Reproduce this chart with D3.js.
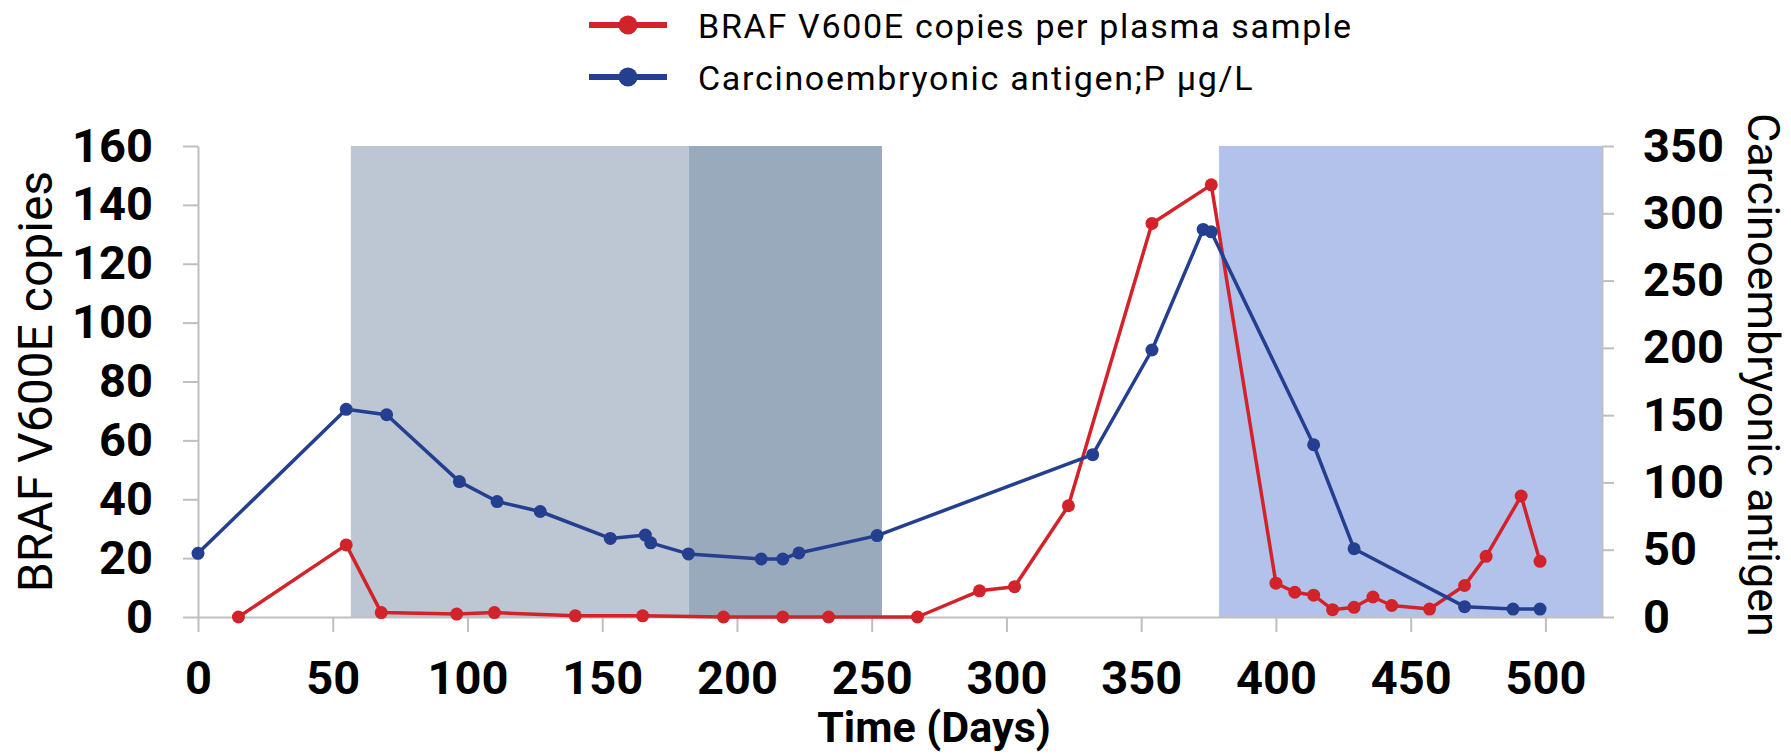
<!DOCTYPE html>
<html>
<head>
<meta charset="utf-8">
<script src="https://cdn.jsdelivr.net/npm/d3@7"></script>
<style>
  body { margin: 0; background: #fff; }
  text { font-family: Roboto, "Open Sans", sans-serif; }
</style>
</head>
<body>
<div id="chart"></div>
<script>
// BRAF V600E copies per plasma sample (left axis)
const brafDays   = [15, 55, 68, 96, 110, 140, 165, 195, 217, 234, 267, 290, 303, 323, 354, 376,
                    400, 407, 414, 421, 429, 436, 443, 457, 470, 478, 491, 498]
const brafCopies = [0, 24.5, 1.5, 1.0, 1.5, 0.4, 0.4, 0, 0, 0, 0, 8.9, 10.3, 37.8, 133.7, 146.8,
                    11.5, 8.4, 7.4, 2.5, 3.3, 6.8, 3.9, 2.7, 10.7, 20.6, 41.1, 18.9]

// carcinoembryonic antigen (right axis)
const ceaDays   = [0, 55, 70, 97, 111, 127, 153, 166, 168, 182, 209, 217, 223, 252,
                   332, 354, 373, 376, 414, 429, 470, 488, 498]
const ceaValues = [47.3, 154.3, 150.3, 100.6, 85.8, 78.4, 58.4, 60.9, 55.1, 46.9, 43.1, 43.1, 47.6, 60.5,
                   120.6, 198.4, 288, 286.2, 128, 50.7, 7.7, 5.9, 5.9]

// treatment periods (days)
const periodStart = [56.7, 182.1, 378.9]
const periodEnd   = [182.1, 253.8, 521]
const periodFill  = ['#bdc6d3', '#9aaabd', '#b3c2ea']

const xTicks  = d3.range(0, 501, 50)
const yLTicks = d3.range(0, 161, 20)
const yRTicks = d3.range(0, 351, 50)

const legendLabels = ['BRAF V600E copies per plasma sample', 'Carcinoembryonic antigen;P \u00b5g/L']

const red = '#d3232a', blue = '#243f8f', axisGray = '#bfbfbf'
const width = 1791, height = 754

let x = d3.scaleLinear().domain([0, 521]).range([198, 1602])
let yL = d3.scaleLinear().domain([0, 160]).range([617, 146])
let yR = d3.scaleLinear().domain([0, 350]).range([617, 146])

let svg = d3.select('#chart').append('svg')
  .attr('width', width)
  .attr('height', height)

// shaded periods
svg.append('g').selectAll('rect')
  .data(periodStart)
  .join('rect')
    .attr('x', (d, i) => x(d))
    .attr('width', (d, i) => x(periodEnd[i]) - x(d))
    .attr('y', yL(160))
    .attr('height', yL(0) - yL(160))
    .attr('fill', (d, i) => periodFill[i])

let styleAxis = g => g
  .call(g => g.selectAll('.domain, .tick line').attr('stroke', axisGray).attr('stroke-width', 2))
  .call(g => g.selectAll('.tick text')
    .attr('fill', '#000')
    .attr('font-size', 47)
    .attr('font-weight', 'bold')
    .attr('font-family', 'Roboto'))

svg.append('g')
  .attr('transform', `translate(0, ${yL(0)})`)
  .call(d3.axisBottom(x).tickValues(xTicks).tickSize(15).tickSizeOuter(0))
  .call(styleAxis)
  .call(g => g.selectAll('.tick text').attr('y', 77).attr('dy', 0))

svg.append('g')
  .attr('transform', `translate(${x(0)}, 0)`)
  .call(d3.axisLeft(yL).tickValues(yLTicks).tickSize(15).tickPadding(30).tickSizeOuter(0))
  .call(styleAxis)

svg.append('g')
  .attr('transform', `translate(${x(521)}, 0)`)
  .call(d3.axisRight(yR).tickValues(yRTicks).tickSize(12).tickPadding(29).tickSizeOuter(0))
  .call(styleAxis)

// axis titles
svg.append('text')
  .attr('transform', `translate(52, ${(yL(0) + yL(160)) / 2}) rotate(-90)`)
  .attr('text-anchor', 'middle')
  .attr('font-size', 48)
  .text('BRAF V600E copies')

svg.append('text')
  .attr('transform', `translate(1748, 113) rotate(90)`)
  .attr('text-anchor', 'start')
  .attr('font-size', 45)
  .text('Carcinoembryonic antigen')

svg.append('text')
  .attr('x', 934)
  .attr('y', 742)
  .attr('text-anchor', 'middle')
  .attr('font-size', 43)
  .attr('font-weight', 'bold')
  .text('Time (Days)')

// series
let drawSeries = (days, values, y, color) => {
  let pts = days.map((d, i) => [x(d), y(values[i])])
  let g = svg.append('g')
  g.append('path')
    .attr('d', d3.line()(pts))
    .attr('fill', 'none')
    .attr('stroke', color)
    .attr('stroke-width', 3.5)
    .attr('stroke-linejoin', 'round')
  g.selectAll('circle').data(pts).join('circle')
    .attr('cx', p => p[0])
    .attr('cy', p => p[1])
    .attr('r', 6.5)
    .attr('fill', color)
}

drawSeries(brafDays, brafCopies, yL, red)
drawSeries(ceaDays, ceaValues, yR, blue)

// legend
let legend = svg.append('g').selectAll('g')
  .data(legendLabels)
  .join('g')
    .attr('transform', (d, i) => `translate(589, ${25 + i * 52})`)

legend.append('line')
  .attr('x1', 0).attr('x2', 78)
  .attr('stroke', (d, i) => i ? blue : red)
  .attr('stroke-width', 6)
legend.append('circle')
  .attr('cx', 39).attr('r', 9.5)
  .attr('fill', (d, i) => i ? blue : red)
legend.append('text')
  .attr('x', 109)
  .attr('y', 13)
  .attr('font-size', 34)
  .attr('letter-spacing', 1.7)
  .text(d => d)
</script>
</body>
</html>
